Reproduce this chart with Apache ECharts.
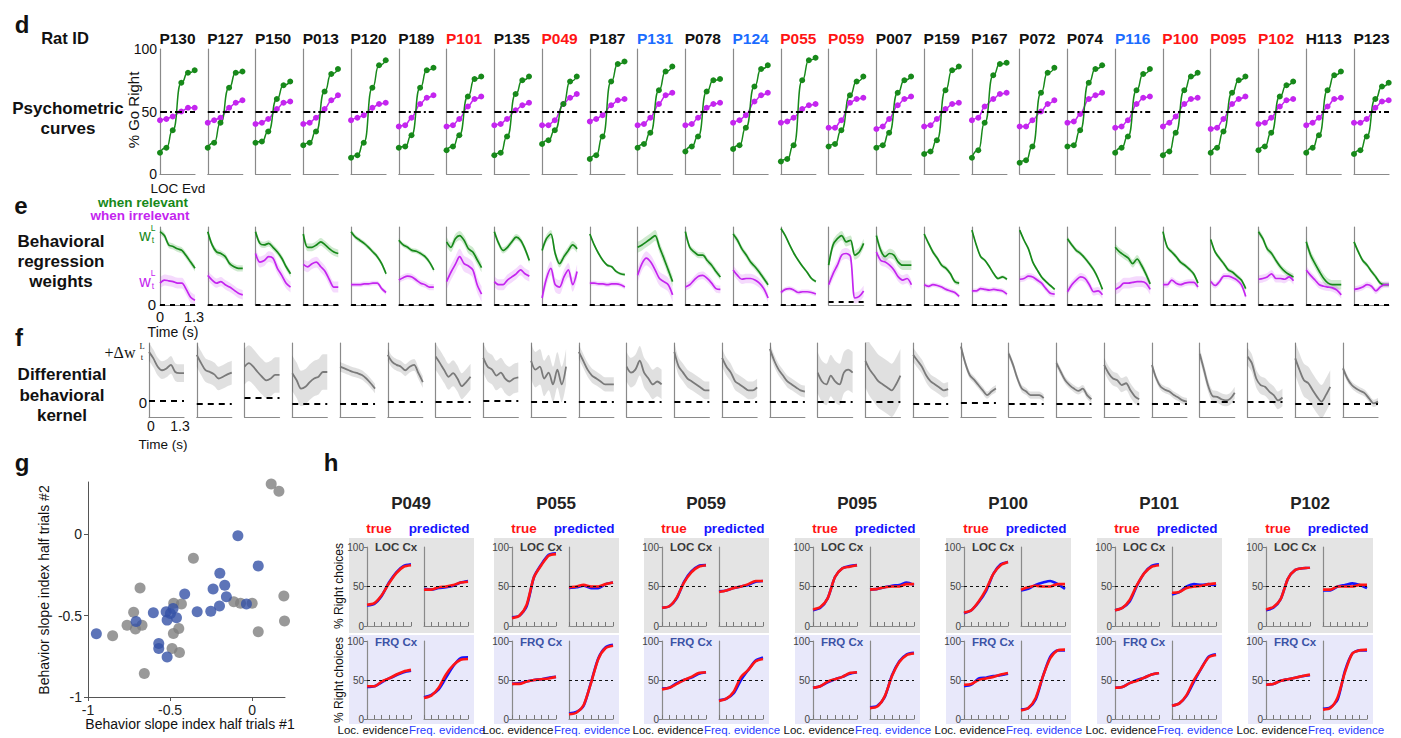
<!DOCTYPE html>
<html>
<head>
<meta charset="utf-8">
<style>
html, body { margin: 0; padding: 0; background: #fff; }
#chart { width: 1401px; height: 738px; }
</style>
<script src="https://cdn.jsdelivr.net/npm/echarts@6/dist/echarts.min.js"></script>
</head>
<body>
<div id="chart"></div>
<script>
// ---- panel d : psychometric curves ----
const ratIds = ['P130','P127','P150','P013','P120','P189','P101','P135','P049','P187','P131','P078','P124',
  'P055','P059','P007','P159','P167','P072','P074','P116','P100','P095','P102','H113','P123'];
// k = black, r = red, b = blue id
const ratKind = ['k','k','k','k','k','k','r','k','r','k','b','k','b','r','r','k','k','k','k','k','b','r','r','r','k','k'];
const evdLevels = [0, 1, 2, 3.35, 4.4, 5.45];
const psyRel = [
  [17,21,35,73,81,83],[21,25,41,69,81,82],[25,26,34,60,71,74],[23,25,34,66,80,84],[13,15,25,69,87,91],
  [21,22,31,69,83,85],[19,22,31,62,76,78],[15,17,30,64,75,78],[24,27,35,56,74,78],[12,15,30,74,88,90],
  [21,24,33,67,82,86],[18,22,30,66,75,76],[20,23,37,70,84,87],[10,12,23,75,91,93],[22,24,35,63,74,78],
  [21,23,33,65,75,78],[16,18,27,67,83,86],[13,19,41,79,88,89],[9,11,22,65,81,85],[22,23,35,73,84,87],
  [17,21,30,67,80,84],[15,18,33,67,78,81],[17,21,34,65,75,78],[19,22,33,62,71,74],[17,21,31,67,79,82],
  [16,19,30,60,70,73]
];
const psyIrr = [
  [43,44,46,50,53,53],[41,43,45,53,57,59],[40,41,44,52,57,58],[40,41,45,52,59,63],[43,45,47,53,56,57],
  [38,39,45,56,61,63],[38,39,44,54,60,62],[39,40,44,51,55,57],[39,39,43,56,61,64],[42,44,47,55,59,60],
  [39,40,45,56,63,65],[39,40,45,53,56,57],[41,43,47,58,63,65],[41,42,45,52,55,56],[37,37,43,57,60,61],
  [36,38,44,55,60,62],[38,39,44,52,56,57],[43,45,54,60,64,65],[38,38,43,50,56,59],[41,42,48,60,63,65],
  [37,38,43,56,61,62],[38,41,46,56,60,61],[36,37,44,56,60,62],[40,41,45,54,59,60],[39,41,45,54,60,61],
  [41,41,44,53,58,59]
];

// ---- panel e : regression weights over time ----
const tBins = ['0','0.16','0.33','0.49','0.65','0.81','0.98','1.14','1.3'];
const wRel = [
  [0.94,0.89,0.77,0.75,0.72,0.70,0.63,0.55,0.47],[0.94,0.77,0.68,0.66,0.62,0.53,0.49,0.47,0.47],
  [0.94,0.79,0.77,0.79,0.74,0.68,0.60,0.49,0.40],[0.91,0.74,0.74,0.77,0.81,0.77,0.72,0.68,0.66],
  [0.94,0.87,0.83,0.79,0.74,0.68,0.62,0.53,0.40],[0.83,0.77,0.74,0.70,0.69,0.66,0.62,0.55,0.45],
  [0.81,0.74,0.85,0.89,0.83,0.72,0.68,0.58,0.48],[0.94,0.79,0.70,0.74,0.81,0.87,0.83,0.72,0.57],
  [0.70,0.85,0.91,0.66,0.53,0.62,0.70,0.77,0.72],[0.91,0.77,0.66,0.57,0.51,0.49,0.43,0.40,0.39],
  [0.74,0.77,0.81,0.85,0.89,0.74,0.60,0.45,0.30],[0.94,0.74,0.68,0.64,0.64,0.57,0.51,0.43,0.36],
  [0.91,0.83,0.72,0.64,0.55,0.49,0.42,0.34,0.26],[0.98,0.89,0.77,0.66,0.57,0.49,0.42,0.34,0.30],
  [0.51,0.77,0.85,0.89,0.81,0.83,0.64,0.68,0.79],[0.89,0.70,0.62,0.66,0.64,0.55,0.51,0.51,0.51],
  [0.91,0.79,0.68,0.60,0.51,0.47,0.40,0.30,0.28],[0.96,0.77,0.62,0.57,0.49,0.40,0.34,0.36,0.33],
  [0.96,0.83,0.72,0.55,0.45,0.36,0.30,0.25,0.20],[0.85,0.77,0.70,0.66,0.60,0.53,0.45,0.34,0.20],
  [0.74,0.68,0.64,0.60,0.53,0.59,0.51,0.40,0.27],[0.94,0.74,0.68,0.62,0.55,0.51,0.46,0.40,0.28],
  [0.84,0.68,0.60,0.53,0.45,0.42,0.37,0.32,0.21],[0.94,0.85,0.72,0.66,0.57,0.49,0.43,0.39,0.36],
  [0.81,0.64,0.53,0.43,0.34,0.28,0.26,0.26,0.26],[0.81,0.68,0.57,0.51,0.43,0.36,0.28,0.26,0.26]
];
const wIrr = [
  [0.28,0.32,0.31,0.30,0.28,0.28,0.20,0.10,0.06],[0.38,0.32,0.28,0.30,0.26,0.23,0.19,0.15,0.13],
  [0.66,0.55,0.57,0.62,0.60,0.47,0.38,0.28,0.23],[0.52,0.49,0.53,0.55,0.49,0.43,0.32,0.23,0.23],
  [0.26,0.26,0.26,0.27,0.27,0.28,0.28,0.21,0.16],[0.32,0.35,0.37,0.36,0.32,0.28,0.26,0.23,0.23],
  [0.30,0.42,0.52,0.62,0.53,0.50,0.45,0.26,0.14],[0.30,0.26,0.26,0.32,0.36,0.40,0.45,0.40,0.37],
  [0.09,0.34,0.47,0.26,0.23,0.36,0.45,0.26,0.43],[0.28,0.28,0.27,0.27,0.26,0.27,0.27,0.26,0.23],
  [0.38,0.53,0.60,0.55,0.45,0.34,0.30,0.26,0.13],[0.23,0.26,0.32,0.37,0.38,0.34,0.28,0.21,0.20],
  [0.45,0.38,0.33,0.34,0.34,0.32,0.28,0.21,0.09],[0.16,0.20,0.21,0.19,0.16,0.17,0.17,0.16,0.14],
  [0.26,0.40,0.51,0.64,0.66,0.62,0.09,0.11,0.18],[0.68,0.57,0.55,0.51,0.45,0.36,0.32,0.34,0.26],
  [0.26,0.24,0.26,0.25,0.23,0.20,0.18,0.16,0.11],[0.18,0.18,0.21,0.20,0.19,0.20,0.19,0.18,0.14],
  [0.33,0.34,0.37,0.36,0.32,0.28,0.21,0.15,0.14],[0.17,0.26,0.32,0.36,0.34,0.26,0.17,0.18,0.13],
  [0.20,0.23,0.28,0.28,0.29,0.30,0.30,0.28,0.20],[0.26,0.26,0.32,0.28,0.26,0.28,0.29,0.29,0.23],
  [0.30,0.25,0.30,0.37,0.37,0.35,0.32,0.26,0.11],[0.33,0.34,0.36,0.40,0.34,0.34,0.33,0.36,0.31],
  [0.45,0.38,0.32,0.26,0.24,0.23,0.22,0.19,0.13],[0.20,0.21,0.23,0.26,0.24,0.18,0.23,0.26,0.26]
];
const wRelSem = [0.04,0.04,0.04,0.05,0.03,0.03,0.06,0.04,0.05,0.02,0.07,0.04,0.04,0.02,0.06,0.06,0.03,0.02,0.02,0.03,0.05,0.03,0.03,0.04,0.06,0.03];
const wIrrSem = [0.07,0.06,0.07,0.07,0.03,0.04,0.10,0.07,0.09,0.03,0.09,0.05,0.06,0.03,0.07,0.06,0.03,0.03,0.04,0.05,0.07,0.04,0.04,0.05,0.05,0.04];
const eZero = [0,0,0,0,0,0,0,0,0,0,0,0,0,0,0.035,0,0,0,0,0,0,0,0,0,0,0];

// ---- panel f : differential kernel ----
const dW = [
  [0.85,0.74,0.60,0.54,0.57,0.63,0.51,0.49,0.49],[0.80,0.66,0.54,0.51,0.47,0.40,0.43,0.47,0.50],
  [0.60,0.66,0.60,0.51,0.43,0.37,0.40,0.46,0.46],[0.49,0.37,0.23,0.26,0.34,0.40,0.43,0.51,0.51],
  [0.60,0.57,0.54,0.51,0.49,0.46,0.40,0.32,0.23],[0.80,0.68,0.63,0.60,0.54,0.60,0.63,0.49,0.34],
  [0.77,0.66,0.54,0.43,0.49,0.40,0.27,0.34,0.43],[0.75,0.60,0.55,0.45,0.50,0.40,0.35,0.40,0.42],
  [0.70,0.55,0.60,0.40,0.50,0.30,0.55,0.30,0.60],[0.85,0.70,0.55,0.45,0.40,0.35,0.30,0.30,0.30],
  [0.60,0.50,0.55,0.70,0.50,0.40,0.30,0.35,0.30],[0.85,0.60,0.50,0.40,0.35,0.30,0.25,0.20,0.20],
  [0.75,0.60,0.50,0.35,0.30,0.25,0.20,0.20,0.25],[0.90,0.70,0.55,0.45,0.35,0.30,0.25,0.20,0.18],
  [0.50,0.35,0.30,0.45,0.35,0.30,0.50,0.55,0.50],[0.70,0.55,0.45,0.35,0.30,0.25,0.20,0.30,0.45],
  [0.80,0.70,0.60,0.45,0.35,0.30,0.25,0.20,0.22],[0.94,0.66,0.46,0.38,0.29,0.20,0.12,0.18,0.23],
  [0.82,0.63,0.40,0.23,0.18,0.12,0.12,0.12,0.07],[0.66,0.51,0.37,0.29,0.23,0.19,0.23,0.12,0.05],
  [0.63,0.49,0.40,0.37,0.29,0.32,0.20,0.10,0.05],[0.63,0.40,0.26,0.21,0.18,0.12,0.08,0.03,0.01],
  [0.82,0.54,0.26,0.10,0.09,0.05,0.03,0.06,0.16],[0.77,0.66,0.40,0.29,0.26,0.18,0.12,0.03,0.08],
  [0.74,0.54,0.37,0.32,0.20,0.09,0.01,0.12,0.26],[0.57,0.40,0.29,0.23,0.19,0.15,0.06,-0.02,0.01]
];
const dWSem = [0.15,0.2,0.3,0.3,0.08,0.1,0.22,0.25,0.3,0.12,0.25,0.15,0.15,0.1,0.35,0.45,0.12,0.06,0.06,0.06,0.12,0.06,0.1,0.15,0.28,0.06];
const fZero = [0.02,-0.02,0.07,-0.03,-0.03,0,0,0.03,0.01,0,0.01,0,0.01,0.01,0.01,0,-0.02,-0.01,-0.02,-0.02,-0.02,-0.02,0,0,-0.02,-0.02];

// ---- panel g : slope index split halves ----
const slopeGray = [
  [0.116,0.308],[0.163,0.263],[-0.358,-0.148],[-0.683,-0.331],[-0.722,-0.480],[-0.762,-0.559],
  [-0.711,-0.583],[-0.671,-0.559],[-0.850,-0.624],[-0.478,-0.425],[-0.431,-0.429],[-0.480,-0.610],
  [-0.447,-0.579],[-0.488,-0.702],[-0.443,-0.727],[-0.657,-0.856],[-0.112,-0.415],[-0.071,-0.425],
  [0.0,-0.425],[0.193,-0.380],[0.197,-0.534],[0.037,-0.600]
];
const slopeBlue = [
  [-0.087,-0.010],[0.037,-0.195],[-0.197,-0.240],[-0.238,-0.337],[-0.167,-0.314],[-0.157,-0.384],
  [-0.199,-0.441],[-0.252,-0.474],[-0.335,-0.476],[-0.411,-0.368],[-0.602,-0.483],[-0.707,-0.536],
  [-0.949,-0.612],[-0.524,-0.476],[-0.482,-0.456],[-0.461,-0.513],[-0.518,-0.528],[-0.569,-0.671],
  [-0.569,-0.702],[-0.518,-0.754],[-0.035,-0.429],[-0.498,-0.487]
];

// ---- panel h : true vs predicted psychometric ----
const hRats = ['P049','P055','P059','P095','P100','P101','P102'];
const hBins = ['1','2','3','4','5','6','7'];
const locCxLocTrue = [[27,29,39,54,67,75,77],[10,13,27,62,77,89,91],[23,25,36,55,68,75,77],[21,24,35,62,73,75,77],[17,20,31,46,66,77,81],[20,23,33,52,67,75,77],[21,24,34,60,71,73,74]];
const locCxLocPred = [[26,28,38,55,68,76,78],[11,13,25,62,78,90,92],[23,25,35,56,69,76,77],[20,23,35,62,73,76,77],[16,20,30,44,66,78,81],[20,23,31,51,67,76,78],[20,23,34,60,71,73,74]];
const locCxFrqTrue = [[46,46,49,50,52,55,56],[49,50,52,50,50,53,55],[43,45,48,50,53,57,57],[46,47,49,50,50,53,53],[46,49,51,50,50,53,53],[42,43,48,50,51,53,54],[46,46,50,50,50,52,52]];
const locCxFrqPred = [[47,46,48,49,51,55,57],[48,49,51,48,48,53,55],[44,45,48,50,52,56,57],[46,47,49,51,52,55,52],[45,47,52,55,57,53,47],[40,43,50,53,52,53,51],[45,45,50,52,54,52,48]];
const frqCxLocTrue = [[42,42,48,52,57,61,63],[45,45,48,50,51,52,54],[38,40,45,50,54,59,60],[40,42,48,51,54,59,60],[44,45,50,52,54,57,59],[40,41,46,49,53,57,59],[44,45,49,51,53,55,57]];
const frqCxLocPred = [[41,42,47,52,56,60,62],[45,46,48,50,51,53,54],[39,40,46,50,53,58,60],[40,42,47,51,54,58,60],[42,44,52,53,55,56,58],[40,41,46,50,53,57,59],[44,45,49,51,53,55,56]];
const frqCxFrqTrue = [[27,30,40,57,69,76,77],[6,8,18,46,77,91,94],[23,26,35,54,63,74,77],[14,16,29,55,73,82,84],[11,14,27,55,78,88,89],[17,20,31,50,65,79,82],[12,14,28,60,84,88,89]];
const frqCxFrqPred = [[28,31,38,53,68,78,79],[7,9,17,47,78,92,95],[24,26,33,50,63,75,79],[15,17,28,56,74,83,85],[12,14,25,55,80,88,88],[17,20,30,48,65,80,83],[13,15,25,62,84,88,88]];

// ---------------------------------------------------------------
const FONT = '"Liberation Sans", Arial, Helvetica, sans-serif';
const GREEN = '#17891a', MAGENTA = '#c425ef', AXC = '#8a8a8a';
const idColor = { k: '#111111', r: '#ff1414', b: '#1a6cff' };

const grid = [], xAxis = [], yAxis = [], series = [], graphic = [];

function addGrid(box, xa, ya) {
  grid.push({ left: box[0], top: box[1], width: box[2], height: box[3] });
  const idx = grid.length - 1;
  xAxis.push(Object.assign({ gridIndex: idx }, xa));
  yAxis.push(Object.assign({ gridIndex: idx }, ya));
  return idx;
}

function axis(extra) {
  return Object.assign({
    axisLine: { show: true, onZero: false, lineStyle: { color: AXC, width: 1.2 } },
    axisTick: { show: false },
    axisLabel: { show: false },
    splitLine: { show: false }
  }, extra);
}

function txt(x, y, text, size, o) {
  o = o || {};
  const font = (o.bold ? 'bold ' : '') + size + 'px ' + (o.family || FONT);
  graphic.push({
    type: 'text', x: x, y: y, rotation: o.rot || 0, z: 100, silent: true,
    style: {
      text: text, fill: o.color || '#111', font: font,
      align: o.align || 'center', verticalAlign: 'middle',
      textAlign: o.align || 'center', textVerticalAlign: 'middle'
    }
  });
}

function dashLine(level, color, type, width) {
  return {
    silent: true, symbol: ['none', 'none'], animation: false,
    label: { show: false },
    lineStyle: { color: color, type: type, width: width },
    data: [{ yAxis: level }]
  };
}

function band(idx, vals, hw, color, id) {
  const common = {
    type: 'line', xAxisIndex: idx, yAxisIndex: idx, stack: id, stackStrategy: 'all',
    symbol: 'none', smooth: 0.3, silent: true, z: 1, lineStyle: { opacity: 0 }
  };
  series.push(Object.assign({ data: vals.map(v => +(v - hw).toFixed(3)) }, common));
  series.push(Object.assign({ data: vals.map(() => +(2 * hw).toFixed(3)), areaStyle: { color: color, opacity: 1 } }, common));
}

const STEP = 47.76;

// ---- panel d ----
ratIds.forEach((id, i) => {
  const left = 160 + i * STEP;
  txt(left + 17.5, 38, id, 15.5, { bold: true, color: idColor[ratKind[i]] });
  const idx = addGrid([left, 49, 35, 125],
    axis({ type: 'value', min: 0, max: 5.5 }),
    axis({ type: 'value', min: 0, max: 100, interval: 50,
      axisLabel: { show: i === 0, fontSize: 14, color: '#111', margin: 3, fontFamily: FONT } }));
  series.push({
    type: 'line', xAxisIndex: idx, yAxisIndex: idx, smooth: 0.3, smoothMonotone: 'x',
    data: evdLevels.map((x, k) => [x, psyIrr[i][k]]),
    symbol: 'circle', symbolSize: 6, lineStyle: { color: MAGENTA, width: 1.5 }, itemStyle: { color: MAGENTA },
    markLine: dashLine(50, '#000', [7, 3, 2, 3], 2)
  });
  series.push({
    type: 'line', xAxisIndex: idx, yAxisIndex: idx, smooth: 0.6, smoothMonotone: 'x',
    data: evdLevels.map((x, k) => [x, psyRel[i][k]]),
    symbol: 'circle', symbolSize: 6, lineStyle: { color: GREEN, width: 1.5 }, itemStyle: { color: GREEN }
  });
});

// ---- panel e ----
ratIds.forEach((id, i) => {
  const left = 160 + i * STEP;
  const idx = addGrid([left, 227, 35, 78],
    axis({ type: 'category', data: tBins, boundaryGap: false }),
    axis({ type: 'value', min: 0, max: 1 }));
  band(idx, wRel[i], wRelSem[i], 'rgba(40,160,40,0.22)', 'eg' + i);
  band(idx, wIrr[i], wIrrSem[i], 'rgba(205,70,245,0.2)', 'em' + i);
  series.push({
    type: 'line', xAxisIndex: idx, yAxisIndex: idx, data: wRel[i], smooth: 0.3, symbol: 'none', z: 3,
    lineStyle: { color: GREEN, width: 1.7 },
    markLine: dashLine(eZero[i], '#000', [5, 5], 2.2)
  });
  series.push({
    type: 'line', xAxisIndex: idx, yAxisIndex: idx, data: wIrr[i], smooth: 0.3, symbol: 'none', z: 3,
    lineStyle: { color: MAGENTA, width: 1.7 }
  });
});

// ---- panel f ----
ratIds.forEach((id, i) => {
  const left = 149 + i * STEP;
  const idx = addGrid([left, 343, 35, 74],
    axis({ type: 'category', data: tBins, boundaryGap: false }),
    axis({ type: 'value', min: -0.25, max: 1 }));
  band(idx, dW[i], dWSem[i], 'rgba(0,0,0,0.12)', 'f' + i);
  series.push({
    type: 'line', xAxisIndex: idx, yAxisIndex: idx, data: dW[i], smooth: 0.3, symbol: 'none', z: 3,
    lineStyle: { color: '#7a7a7a', width: 1.8 },
    markLine: dashLine(fZero[i], '#000', [6, 5], 2.2)
  });
});

// ---- panel g ----
{
  const idx = addGrid([88, 482, 197, 215],
    { type: 'value', min: -1, max: 0.2, interval: 0.5,
      axisLine: { show: true, onZero: false, lineStyle: { color: '#555', width: 1 } },
      axisTick: { show: true, length: 4, lineStyle: { color: '#555' } },
      axisLabel: { fontSize: 14, color: '#222', margin: 6, showMaxLabel: false, fontFamily: FONT },
      splitLine: { show: false } },
    { type: 'value', min: -1, max: 0.32, interval: 0.5,
      axisLine: { show: true, onZero: false, lineStyle: { color: '#555', width: 1 } },
      axisTick: { show: true, length: 4, lineStyle: { color: '#555' } },
      axisLabel: { fontSize: 14, color: '#222', margin: 6, showMaxLabel: false, fontFamily: FONT },
      splitLine: { show: false } });
  series.push({ type: 'scatter', xAxisIndex: idx, yAxisIndex: idx, data: slopeGray, symbolSize: 11,
    itemStyle: { color: '#808080' }, z: 3 });
  series.push({ type: 'scatter', xAxisIndex: idx, yAxisIndex: idx, data: slopeBlue, symbolSize: 11,
    itemStyle: { color: '#3451a6' }, z: 4 });
}

// ---- panel h ----
const hBoxLeft = [349, 494, 644, 795, 946, 1097, 1248];
hRats.forEach((rat, g) => {
  const bx = hBoxLeft[g];
  graphic.push({ type: 'rect', z: -10, silent: true, shape: { x: bx, y: 538, width: 125, height: 95 }, style: { fill: '#e4e4e4' } });
  graphic.push({ type: 'rect', z: -10, silent: true, shape: { x: bx, y: 635, width: 125, height: 89 }, style: { fill: '#e8e8fa' } });
  txt(bx + 62, 503, rat, 17, { bold: true, color: '#222' });
  txt(bx + 30, 528, 'true', 13.5, { bold: true, color: '#ff1414' });
  txt(bx + 90, 528, 'predicted', 13.5, { bold: true, color: '#1414ff' });
  txt(bx + 26, 547, 'LOC Cx', 11.5, { bold: true, color: '#3a3a3a', align: 'left' });
  txt(bx + 26, 642, 'FRQ Cx', 11.5, { bold: true, color: '#3b52a6', align: 'left' });
  txt(bx + 24, 730, 'Loc. evidence', 11.5, { color: '#111' });
  txt(bx + 98, 730, 'Freq. evidence', 11.5, { color: '#2a3cff' });
  const panels = [
    [bx + 18, 547, 79, locCxLocTrue[g], locCxLocPred[g], true],
    [bx + 75, 547, 79, locCxFrqTrue[g], locCxFrqPred[g], false],
    [bx + 18, 641, 78, frqCxLocTrue[g], frqCxLocPred[g], true],
    [bx + 75, 641, 78, frqCxFrqTrue[g], frqCxFrqPred[g], false]
  ];
  panels.forEach(p => {
    const idx = addGrid([p[0], p[1], 44, p[2]],
      axis({ type: 'category', data: hBins, boundaryGap: false,
        axisTick: { show: true, inside: true, length: 4, interval: 0, lineStyle: { color: '#777' } } }),
      axis({ type: 'value', min: 0, max: 100, interval: 50,
        axisTick: { show: p[5], length: 3, lineStyle: { color: '#777' } },
        axisLabel: { show: p[5], fontSize: 10, color: '#444', margin: 3, fontFamily: FONT } }));
    series.push({ type: 'line', xAxisIndex: idx, yAxisIndex: idx, data: p[4], smooth: 0.25, symbol: 'none', z: 3,
      lineStyle: { color: '#1515ff', width: 2.6 },
      markLine: dashLine(50, '#111', [3, 3], 1) });
    series.push({ type: 'line', xAxisIndex: idx, yAxisIndex: idx, data: p[3], smooth: 0.25, symbol: 'none', z: 4,
      lineStyle: { color: '#ff1515', width: 2.6 } });
  });
});

// ---- labels ----
txt(22, 24, 'd', 24, { bold: true });
txt(65, 38, 'Rat ID', 16.5, { bold: true });
txt(68, 108, 'Psychometric', 17, { bold: true });
txt(68, 128, 'curves', 17, { bold: true });
txt(133, 110, '% Go Right', 15, { rot: Math.PI / 2 });
txt(178, 188, 'LOC Evd', 13.5);

txt(21, 205, 'e', 24, { bold: true });
txt(143, 202, 'when relevant', 13.5, { bold: true, color: GREEN });
txt(140, 215.5, 'when irrelevant', 13.5, { bold: true, color: MAGENTA });
txt(61, 241, 'Behavioral', 17, { bold: true });
txt(61, 261, 'regression', 17, { bold: true });
txt(61, 281, 'weights', 17, { bold: true });
txt(145, 235, 'w', 16, { color: GREEN });
txt(153, 228, 'L', 8.5, { color: GREEN });
txt(153, 240, 't', 8.5, { color: GREEN });
txt(145, 281, 'w', 16, { color: MAGENTA });
txt(153, 273, 'L', 8.5, { color: MAGENTA });
txt(153, 286, 't', 8.5, { color: MAGENTA });
txt(152, 304, '0', 15);
txt(160, 317, '0', 14.5);
txt(194, 317, '1.3', 14.5);
txt(173, 332, 'Time (s)', 14);

txt(19, 337, 'f', 24, { bold: true });
txt(62, 374, 'Differential', 17, { bold: true });
txt(62, 395, 'behavioral', 17, { bold: true });
txt(62, 415, 'kernel', 17, { bold: true });
txt(120, 352, '+\u0394w', 16, { family: '"Liberation Serif", "DejaVu Serif", serif' });
txt(142, 346, 'L', 8.5, { family: '"Liberation Serif", serif' });
txt(142, 357, 't', 8.5, { family: '"Liberation Serif", serif' });
txt(143, 402, '0', 15);
txt(151, 426, '0', 14);
txt(180, 426, '1.3', 14);
txt(163, 444, 'Time (s)', 13.5);

txt(22, 462, 'g', 24, { bold: true });
txt(190, 724, 'Behavior slope index half trials #1', 14);
txt(44, 590, 'Behavior slope index half trials #2', 14, { rot: Math.PI / 2 });

txt(331, 462, 'h', 24, { bold: true });
txt(339, 586, '% Right choices', 12, { rot: Math.PI / 2 });
txt(339, 680, '% Right choices', 12, { rot: Math.PI / 2 });

const chart = echarts.init(document.getElementById('chart'), null, { renderer: 'svg' });
chart.setOption({
  animation: false,
  backgroundColor: '#ffffff',
  textStyle: { fontFamily: FONT },
  grid: grid,
  xAxis: xAxis,
  yAxis: yAxis,
  series: series,
  graphic: graphic
});
</script>
</body>
</html>
